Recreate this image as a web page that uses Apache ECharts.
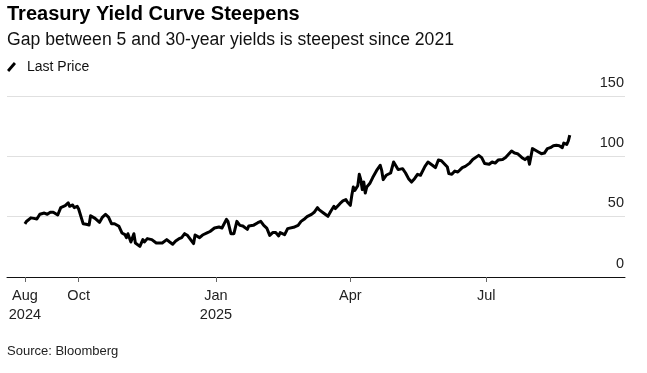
<!DOCTYPE html>
<html><head><meta charset="utf-8">
<script src="https://cdn.jsdelivr.net/npm/echarts@6/dist/echarts.min.js"></script>
<style>html,body{margin:0;padding:0;background:#fff}#c{width:647px;height:373px}</style>
</head><body><div id="c"></div>
<script>
const dates = [
'2024-08-26','2024-08-27','2024-08-30','2024-09-01','2024-09-03','2024-09-05','2024-09-06','2024-09-08','2024-09-10','2024-09-12',
'2024-09-13','2024-09-14','2024-09-17','2024-09-19','2024-09-22','2024-09-24','2024-09-25','2024-09-27','2024-09-28','2024-09-30',
'2024-10-01','2024-10-02','2024-10-04','2024-10-06','2024-10-08','2024-10-09','2024-10-12','2024-10-15','2024-10-17','2024-10-19',
'2024-10-21','2024-10-23','2024-10-25','2024-10-28','2024-10-30','2024-11-01','2024-11-02','2024-11-03','2024-11-05','2024-11-07',
'2024-11-08','2024-11-11','2024-11-13','2024-11-14','2024-11-16','2024-11-19','2024-11-22','2024-11-26','2024-11-29','2024-12-01',
'2024-12-03','2024-12-05','2024-12-07','2024-12-09','2024-12-11','2024-12-13','2024-12-17','2024-12-18','2024-12-21','2024-12-23',
'2024-12-26','2024-12-28','2024-12-31','2025-01-03','2025-01-05','2025-01-08','2025-01-09','2025-01-11','2025-01-13','2025-01-15',
'2025-01-17','2025-01-19','2025-01-22','2025-01-23','2025-01-26','2025-01-29','2025-01-31','2025-02-02','2025-02-04','2025-02-06',
'2025-02-08','2025-02-10','2025-02-12','2025-02-13','2025-02-16','2025-02-18','2025-02-22','2025-02-25','2025-02-27','2025-03-01',
'2025-03-03','2025-03-06','2025-03-08','2025-03-10','2025-03-11','2025-03-14','2025-03-17','2025-03-19','2025-03-21','2025-03-22',
'2025-03-25','2025-03-27','2025-03-29','2025-03-30','2025-04-01','2025-04-02','2025-04-03','2025-04-04','2025-04-05','2025-04-06',
'2025-04-07','2025-04-08','2025-04-09','2025-04-10','2025-04-11','2025-04-12','2025-04-14','2025-04-16','2025-04-19','2025-04-21',
'2025-04-22','2025-04-23','2025-04-25','2025-04-28','2025-04-30','2025-05-03','2025-05-04','2025-05-06','2025-05-08','2025-05-10',
'2025-05-12','2025-05-14','2025-05-16','2025-05-18','2025-05-21','2025-05-23','2025-05-26','2025-05-28','2025-05-30','2025-06-01',
'2025-06-02','2025-06-05','2025-06-06','2025-06-08','2025-06-10','2025-06-12','2025-06-15','2025-06-17','2025-06-20','2025-06-22',
'2025-06-26','2025-06-28','2025-06-30','2025-07-03','2025-07-05','2025-07-07','2025-07-09','2025-07-12','2025-07-14','2025-07-15',
'2025-07-18','2025-07-20','2025-07-22','2025-07-25','2025-07-27','2025-07-29','2025-07-30','2025-08-01','2025-08-03','2025-08-05',
'2025-08-07','2025-08-09','2025-08-11','2025-08-13','2025-08-15','2025-08-17','2025-08-19','2025-08-21','2025-08-22','2025-08-24',
'2025-08-25','2025-08-26'
];
const values = [
44,46,49,48.6,48,52,50.8,53,52,53.6,
52,53.6,51.4,57.5,59.1,61.5,58.6,59.7,57.5,58.6,
56.3,57.5,44.2,43.7,43.1,50.8,48.6,45.3,49.7,51.9,
49.7,44.2,44.2,42,36.5,35.1,32.6,35.9,29,35.9,
28.2,25.4,31,29,31.8,31,28.2,28.2,31,29,
27.1,29.8,31.5,32.6,35.9,34.3,27.7,34.8,32.6,34.8,
36.5,37.7,40.6,41.4,40.6,47.8,46.1,35.9,35.9,46.1,
42.8,42.3,39.5,42.3,42.8,45,46.1,42.8,40.6,34.5,
36.8,36.8,34,36.8,35.1,40.1,41.2,42.8,46.1,47.8,
50,51.9,53.9,57.5,55.8,53,50.3,54.7,58.6,56.7,
60.8,63,64.1,62.1,59.4,67.7,74.6,71.8,72.4,75.7,
85.1,80.7,72.4,78.7,69.6,74.6,77.4,82.4,89,92.6,
88.4,80.7,84.3,86.2,95.3,89,89.8,89.8,86.2,81.5,
78.7,81.5,85.1,84.3,91.7,95.3,92.6,90.6,96.9,96.3,
96.9,91.1,85.7,85.1,87.8,87,90.6,91.7,94.4,97.3,
100.8,98.9,94,93.4,95.3,94.4,96.9,97.4,99,98.2,
104.4,102.7,102.2,98.9,97.3,99.4,93.4,106.4,105,103.6,
102.2,102.7,106.4,107.2,108.8,109.1,108.8,107.2,111,109.9,
112.7,117.5
];
const seriesName = 'Last Price';
const tickDates = ['2024-08-26','2024-10-01','2025-01-01','2025-04-01','2025-07-01'];
const tickLabels = ['Aug\n2024','Oct','Jan\n2025','Apr','Jul'];
const axisStart = '2024-08-14';
const axisEnd = '2025-10-02';
const yMin = 0, yMax = 150, yStep = 50;

function toTime(s){const p=s.split('-');return Date.UTC(+p[0],+p[1]-1,+p[2]);}
const tickTimes = tickDates.map(toTime);
const data = dates.map((d,i)=>[toTime(d), values[i]]);
const FONT = "'Liberation Sans', Arial, Helvetica, sans-serif";

const chart = echarts.init(document.getElementById('c'), null, {renderer:'canvas'});
chart.setOption({
  animation: false,
  backgroundColor: '#fff',
  textStyle: {fontFamily: FONT},
  title: {
    text: 'Treasury Yield Curve Steepens',
    subtext: 'Gap between 5 and 30-year yields is steepest since 2021',
    left: 7, top: 3, padding: 0, itemGap: 4,
    textStyle: {fontFamily: FONT, fontSize: 20, fontWeight: 'bold', color: '#000', lineHeight: 22},
    subtextStyle: {fontFamily: FONT, fontSize: 17.6, color: '#111', lineHeight: 22}
  },
  legend: {
    left: 7, top: 60, padding: 0,
    itemWidth: 9, itemHeight: 10,
    data: [{name: seriesName, icon: 'path://M0,8 L7,0 L9.2,2 L2.2,10 Z'}],
    textStyle: {fontFamily: FONT, fontSize: 14, color: '#111', padding: [0,0,0,6]}
  },
  graphic: [{
    type: 'text', left: 7, top: 345,
    style: {text: 'Source: Bloomberg', fontFamily: FONT, fontSize: 13, fill: '#222'}
  }],
  grid: {left: 7, right: 22, top: 96, bottom: 96, containLabel: false, outerBoundsMode: 'none'},
  xAxis: {
    type: 'value',
    min: toTime(axisStart), max: toTime(axisEnd),
    axisLine: {show: true, onZero: false, lineStyle: {color: '#111', width: 1}},
    axisTick: {show: true, customValues: tickTimes, length: 5, lineStyle: {color: '#666', width: 1}},
    axisLabel: {
      customValues: tickTimes, margin: 9, fontSize: 14.5, lineHeight: 19, color: '#222', fontFamily: FONT,
      showMinLabel: true, showMaxLabel: true, hideOverlap: false,
      formatter: function(v){const i=tickTimes.indexOf(v);return i>=0?tickLabels[i]:'';}
    },
    splitLine: {show: false}
  },
  yAxis: {
    type: 'value', position: 'right',
    min: yMin, max: yMax, interval: yStep,
    axisLine: {show: false}, axisTick: {show: false},
    axisLabel: {inside: true, margin: 1, fontSize: 14.5, color: '#222', fontFamily: FONT,
      verticalAlign: 'bottom', lineHeight: 27},
    splitLine: {show: true, lineStyle: {color: '#e0e0e0', width: 1}}
  },
  series: [{
    name: seriesName, type: 'line', data: data,
    showSymbol: false, symbol: 'none',
    lineStyle: {color: '#000', width: 3, join: 'round'},
    itemStyle: {color: '#000'},
    z: 3
  }]
});
</script></body></html>
